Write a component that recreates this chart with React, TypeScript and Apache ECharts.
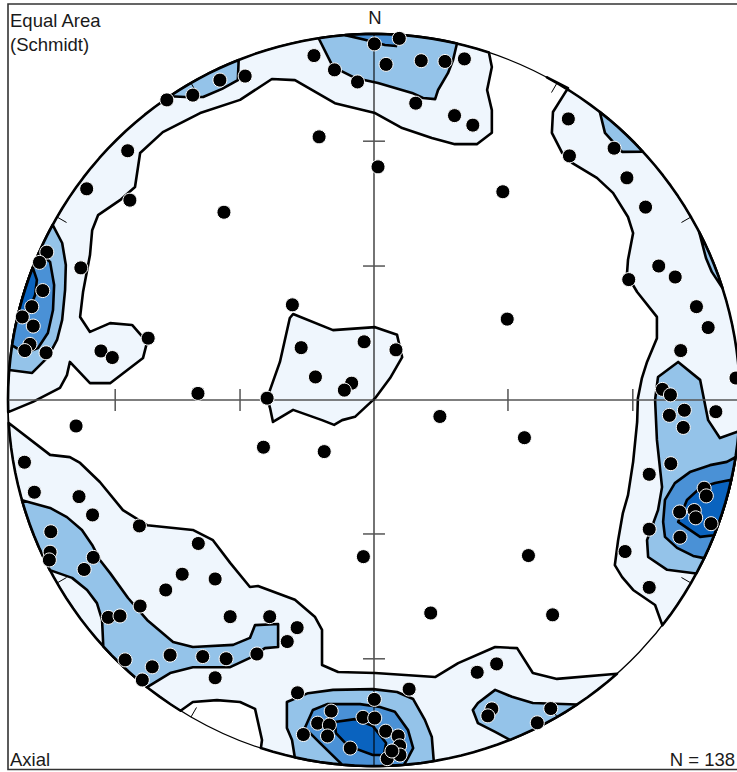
import { useEffect, useRef } from "react";
import * as echarts from "echarts";

// Outline vertex: [x, y] in projection units (primitive circle radius = 1),
// or a single number = azimuth (deg, clockwise from N) of a point on the primitive circle.
type V = [number, number] | number;

// ---------- poles (equal-area projection coordinates) ----------
const northWestPoles: [number, number][] = [
  [-0.566, 0.82], [-0.495, 0.833], [-0.421, 0.874], [-0.352, 0.885], [-0.673, 0.681],
  [-0.785, 0.577], [-0.667, 0.546], [-0.41, 0.513], [-0.894, 0.404],
];
const northPoles: [number, number][] = [
  [-0.164, 0.941], [-0.108, 0.902], [-0.045, 0.869], [0.001, 0.973], [0.069, 0.988],
  [0.033, 0.917], [0.129, 0.927], [0.194, 0.925], [0.247, 0.932], [0.114, 0.811],
  [0.22, 0.777], [0.27, 0.751], [-0.15, 0.719], [0.011, 0.637],
];
const northEastPoles: [number, number][] = [
  [0.531, 0.768], [0.656, 0.688], [0.534, 0.667], [0.691, 0.607], [0.742, 0.527],
  [0.352, 0.569], [0.778, 0.366], [0.823, 0.336], [0.696, 0.329], [0.881, 0.255],
  [0.913, 0.198], [0.364, 0.221],
];
const eastPoles: [number, number][] = [
  [0.838, 0.135], [0.788, 0.029], [0.81, 0.014], [0.848, -0.028], [0.807, -0.042],
  [0.845, -0.075], [0.934, -0.032], [0.411, -0.103], [0.811, -0.174], [0.752, -0.203],
  [0.902, -0.241], [0.908, -0.262], [0.835, -0.306], [0.875, -0.302], [0.879, -0.322],
  [0.921, -0.338], [0.836, -0.375], [0.752, -0.353], [0.686, -0.414], [0.989, 0.06],
];
const southEastPoles: [number, number][] = [
  [0.752, -0.512], [0.422, -0.425], [0.488, -0.587], [0.335, -0.721], [0.483, -0.843],
  [0.446, -0.882], [0.322, -0.844], [0.311, -0.863],
];
const southPoles: [number, number][] = [
  [-0.029, -0.428], [0.155, -0.582], [-0.285, -0.592], [-0.21, -0.622], [-0.237, -0.66],
  [-0.32, -0.694], [0.282, -0.744], [0.096, -0.79], [-0.209, -0.8], [0.001, -0.818],
  [-0.117, -0.85], [-0.154, -0.883], [-0.122, -0.888], [-0.127, -0.918], [-0.193, -0.914],
  [-0.03, -0.867], [0.002, -0.869], [0.032, -0.905], [-0.065, -0.951], [0.066, -0.918],
  [0.07, -0.945], [0.036, -0.98], [0.071, -0.97], [0.049, -0.959],
];
const southWestPoles: [number, number][] = [
  [-0.769, -0.314], [-0.641, -0.344], [-0.48, -0.392], [-0.883, -0.36], [-0.885, -0.416],
  [-0.887, -0.437], [-0.767, -0.43], [-0.792, -0.463], [-0.524, -0.476], [-0.434, -0.489],
  [-0.569, -0.519], [-0.639, -0.563], [-0.726, -0.594], [-0.694, -0.59], [-0.393, -0.592],
  [-0.557, -0.697], [-0.468, -0.701], [-0.404, -0.707], [-0.68, -0.71], [-0.606, -0.729],
  [-0.633, -0.765], [-0.434, -0.759], [-0.814, -0.071], [-0.955, -0.17], [-0.928, -0.252],
  [-0.806, -0.264],
];
const westPoles: [number, number][] = [
  [-0.914, 0.376], [-0.801, 0.361], [-0.905, 0.299], [-0.935, 0.255], [-0.961, 0.227],
  [-0.931, 0.202], [-0.94, 0.152], [-0.954, 0.135], [-0.896, 0.129], [-0.617, 0.169],
  [-0.746, 0.134], [-0.715, 0.116], [-0.481, 0.018],
];
const centralPoles: [number, number][] = [
  [-0.223, 0.26], [-0.199, 0.143], [-0.027, 0.159], [0.06, 0.137], [-0.16, 0.063],
  [-0.061, 0.046], [-0.081, 0.027], [-0.292, 0.005], [0.18, -0.045], [-0.302, -0.129],
  [-0.136, -0.141],
];

// ---------- contour outlines ----------
const level1North: V[] = [268.1, [-0.932, -0.005], [-0.858, 0.033], [-0.839, 0.068], [-0.831, 0.104], [-0.776, 0.046], [-0.721, 0.046], [-0.631, 0.115], [-0.62, 0.158], [-0.661, 0.205], [-0.721, 0.21], [-0.776, 0.186], [-0.803, 0.227], [-0.795, 0.295], [-0.776, 0.396], [-0.77, 0.464], [-0.754, 0.505], [-0.694, 0.546], [-0.653, 0.582], [-0.639, 0.675], [-0.577, 0.732], [-0.475, 0.784], [-0.366, 0.82], [-0.279, 0.877], [-0.216, 0.874], [-0.107, 0.811], [0.003, 0.784], [0.077, 0.743], [0.158, 0.716], [0.221, 0.699], [0.281, 0.699], [0.322, 0.73], [0.322, 0.792], [0.309, 0.847], [0.322, 0.91], 18.3];
const level1East: V[] = [28.2, [0.53, 0.852], [0.489, 0.787], [0.486, 0.73], [0.514, 0.675], [0.541, 0.648], [0.609, 0.607], [0.653, 0.566], [0.694, 0.5], [0.708, 0.456], [0.694, 0.383], [0.691, 0.342], [0.719, 0.295], [0.773, 0.227], [0.773, 0.169], [0.746, 0.104], [0.732, 0.06], [0.721, 0.005], [0.719, -0.06], [0.708, -0.169], [0.694, -0.26], [0.68, -0.309], [0.667, -0.383], [0.658, -0.451], [0.678, -0.484], [0.708, -0.519], [0.768, -0.56], 128];
const level1South: V[] = [266.4, [-0.885, -0.15], [-0.831, -0.156], [-0.803, -0.172], [-0.749, -0.224], [-0.686, -0.301], [-0.62, -0.342], [-0.495, -0.355], [-0.44, -0.383], [-0.393, -0.445], [-0.339, -0.511], [-0.317, -0.508], [-0.216, -0.546], [-0.161, -0.593], [-0.142, -0.628], [-0.142, -0.724], [-0.098, -0.743], [0.003, -0.746], [0.167, -0.757], [0.23, -0.719], [0.331, -0.675], [0.391, -0.678], [0.434, -0.746], [0.5, -0.762], 138.4, 198, [-0.306, -0.929], [-0.325, -0.844], [-0.366, -0.825], [-0.429, -0.82], [-0.495, -0.825], 211.9];
const level1Center: V[] = [[-0.221, 0.235], [-0.112, 0.191], [0.003, 0.199], [0.063, 0.178], [0.077, 0.117], [0.044, 0.06], [0.003, 0.005], [-0.052, -0.046], [-0.087, -0.055], [-0.109, -0.068], [-0.142, -0.055], [-0.221, -0.027], [-0.276, -0.06], [-0.284, -0.022], [-0.292, 0.005], [-0.257, 0.104], [-0.23, 0.224]];

const level2North: V[] = [351.3, [-0.112, 0.91], [-0.052, 0.88], [0.011, 0.866], [0.104, 0.839], [0.134, 0.825], [0.167, 0.822], [0.175, 0.847], [0.202, 0.893], [0.216, 0.929], 13.1];
const level2NorthWest: V[] = [326.1, [-0.516, 0.828], [-0.467, 0.828], [-0.415, 0.85], [-0.372, 0.874], 338.3];
const level2NorthEast: V[] = [38.1, [0.631, 0.73], [0.678, 0.678], 47.3];
const level2EastSliver: V[] = [62.7, [0.907, 0.388], [0.923, 0.35], 72.2];
const level2East: V[] = [94.9, [0.945, -0.104], [0.913, -0.055], [0.891, 0.055], [0.831, 0.104], [0.776, 0.063], [0.768, 0], [0.773, -0.109], [0.787, -0.238], [0.776, -0.301], [0.746, -0.383], [0.749, -0.429], [0.801, -0.464], 118.3];
const level2West: V[] = [298.6, [-0.852, 0.429], [-0.842, 0.369], [-0.844, 0.301], [-0.852, 0.219], [-0.866, 0.164], [-0.891, 0.117], [-0.934, 0.074], 274.7];
const level2SouthWest: V[] = [254.1, [-0.885, -0.295], [-0.839, -0.32], [-0.798, -0.355], [-0.77, -0.396], [-0.749, -0.437], [-0.721, -0.473], [-0.672, -0.541], [-0.62, -0.601], [-0.549, -0.661], [-0.495, -0.675], [-0.385, -0.669], [-0.339, -0.65], [-0.325, -0.615], [-0.262, -0.612], [-0.262, -0.675], [-0.298, -0.678], [-0.333, -0.702], [-0.393, -0.73], [-0.495, -0.73], [-0.557, -0.746], 218.3, 227.7, [-0.743, -0.601], [-0.757, -0.555], [-0.784, -0.519], [-0.825, -0.486], 242.3];
const level2South: V[] = [192.5, [-0.224, -0.929], [-0.238, -0.896], [-0.238, -0.825], [-0.18, -0.801], [-0.112, -0.792], [-0.003, -0.79], [0.063, -0.798], [0.107, -0.817], [0.139, -0.874], [0.158, -0.921], 170.6];
const level2SouthEast: V[] = [146.3, [0.434, -0.828], [0.377, -0.811], [0.331, -0.792], [0.284, -0.828], [0.27, -0.847], [0.284, -0.883], [0.331, -0.907], 158.2];

const level3North: V[] = [355.5, [-0.025, 0.984], [0.03, 0.97], [0.06, 0.967], 3.6];
const level3West: V[] = [293.8, [-0.885, 0.377], [-0.874, 0.314], [-0.877, 0.246], [-0.891, 0.183], [-0.918, 0.142], [-0.954, 0.128], 278.6];
const level3East: V[] = [99, [0.964, -0.169], [0.918, -0.178], [0.863, -0.197], [0.822, -0.227], [0.795, -0.273], [0.79, -0.333], [0.795, -0.374], [0.828, -0.404], [0.872, -0.426], 115.6];
const level3South: V[] = [185, [-0.148, -0.937], [-0.189, -0.896], [-0.167, -0.847], [-0.128, -0.831], [-0.038, -0.831], [0.016, -0.839], [0.057, -0.852], [0.093, -0.902], [0.107, -0.951], [0.093, -0.978], 175.3];

const level4West: V[] = [291.2, [-0.921, 0.328], [-0.926, 0.287], [-0.94, 0.251], [-0.956, 0.224], 282.3];
const level4East: V[] = [102.6, [0.932, -0.227], [0.891, -0.24], [0.855, -0.273], [0.831, -0.333], [0.863, -0.355], [0.891, -0.374], 111.7];
const level4South: V[] = [[-0.107, -0.88], [-0.052, -0.872], [-0.003, -0.891], [0.033, -0.937], [0.027, -0.97], [-0.003, -0.97], [-0.071, -0.945], [-0.104, -0.91]];

const levelColors = ["#eff6fd", "#94c3e9", "#4a91d6", "#0a63bf"];
const contours: { level: number; outline: V[] }[] = [
  ...[level1North, level1East, level1South, level1Center].map((o) => ({ level: 1, outline: o })),
  ...[level2North, level2NorthWest, level2NorthEast, level2EastSliver, level2East, level2West, level2SouthWest, level2South, level2SouthEast].map((o) => ({ level: 2, outline: o })),
  ...[level3North, level3West, level3East, level3South].map((o) => ({ level: 3, outline: o })),
  ...[level4West, level4East, level4South].map((o) => ({ level: 4, outline: o })),
];

// net furniture
const crossTickPlunges = [30, 60];
const rimTickAzimuths = [30, 60, 120, 150, 210, 240, 300, 330];

const azToXY = (az: number): [number, number] => [Math.sin((az * Math.PI) / 180), Math.cos((az * Math.PI) / 180)];
const equalAreaR = (plunge: number) => Math.SQRT2 * Math.sin((((90 - plunge) / 2) * Math.PI) / 180);

function expandOutline(outline: V[]): [number, number][] {
  const out: [number, number][] = [];
  const n = outline.length;
  for (let i = 0; i < n; i++) {
    const a = outline[i];
    const b = outline[(i + 1) % n];
    if (typeof a === "number") {
      out.push(azToXY(a));
      if (typeof b === "number") {
        const d = ((b - a + 540) % 360) - 180;
        const steps = Math.max(1, Math.ceil(Math.abs(d) / 2));
        for (let k = 1; k < steps; k++) out.push(azToXY(a + (d * k) / steps));
      }
    } else out.push(a);
  }
  return out;
}

const allPoles = [
  ...northWestPoles, ...northPoles, ...northEastPoles, ...eastPoles, ...southEastPoles,
  ...southPoles, ...southWestPoles, ...westPoles, ...centralPoles,
];

export default function App() {
  const ref = useRef<HTMLDivElement>(null);
  useEffect(() => {
    if (!ref.current) return;
    const chart = echarts.init(ref.current, undefined, { renderer: "svg" });
    const font = '18.5px "Liberation Sans", Arial, sans-serif';
    const textFill = "#1a1a1a";
    chart.setOption({
      animation: false,
      backgroundColor: "#ffffff",
      grid: { left: 8, top: 34, width: 732, height: 732, containLabel: false, outerBoundsMode: "none" },
      xAxis: { type: "value", min: -1, max: 1, show: false },
      yAxis: { type: "value", min: -1, max: 1, show: false },
      graphic: [
        { type: "rect", shape: { x: 8, y: 4, width: 745, height: 765.5 }, style: { fill: "none", stroke: "#333", lineWidth: 1.6 }, z: 0, silent: true },
        { type: "text", x: 10, y: 10.5, style: { text: "Equal Area", font, fill: textFill, verticalAlign: "top" }, z: 10 },
        { type: "text", x: 10, y: 34.5, style: { text: "(Schmidt)", font, fill: textFill, verticalAlign: "top" }, z: 10 },
        { type: "text", x: 375, y: 7.5, style: { text: "N", font, fill: textFill, align: "center", verticalAlign: "top" }, z: 10 },
        { type: "text", x: 10, y: 749.5, style: { text: "Axial", font, fill: textFill, verticalAlign: "top" }, z: 10 },
        { type: "text", x: 735, y: 749.5, style: { text: "N = 138", font, fill: textFill, align: "right", verticalAlign: "top" }, z: 10 },
      ],
      series: [
        {
          type: "custom",
          coordinateSystem: "cartesian2d",
          silent: true,
          z: 1,
          encode: { x: 0, y: 1 },
          data: contours.map((_, i) => [0, 0, i]),
          renderItem: (_p: any, api: any) => {
            const c = contours[api.value(2) as number];
            const points = expandOutline(c.outline).map((p) => api.coord(p));
            return {
              type: "polygon",
              shape: { points },
              style: { fill: levelColors[c.level - 1], stroke: "#000", lineWidth: 2.6, lineJoin: "round" },
            };
          },
        },
        {
          type: "custom",
          coordinateSystem: "cartesian2d",
          silent: true,
          z: 2,
          encode: { x: 0, y: 1 },
          data: [[0, 0]],
          renderItem: (_p: any, api: any) => {
            const c = api.coord([0, 0]);
            const sz = api.size([1, 1]);
            const r = Array.isArray(sz) ? sz[0] : sz;
            const children: any[] = [];
            const line = (a: [number, number], b: [number, number], stroke: string, lw: number) => {
              const p1 = api.coord(a);
              const p2 = api.coord(b);
              children.push({ type: "line", shape: { x1: p1[0], y1: p1[1], x2: p2[0], y2: p2[1] }, style: { stroke, lineWidth: lw } });
            };
            line([-1, 0], [1, 0], "#555", 1.6);
            line([0, -1], [0, 1], "#000", 1.1);
            const tl = 0.03;
            crossTickPlunges.forEach((pl) => {
              const t = equalAreaR(pl);
              line([t, -tl], [t, tl], "#555", 1.5);
              line([-t, -tl], [-t, tl], "#555", 1.5);
              line([-tl, t], [tl, t], "#555", 1.5);
              line([-tl, -t], [tl, -t], "#555", 1.5);
            });
            rimTickAzimuths.forEach((az) => {
              const [x, y] = azToXY(az);
              line([x, y], [x * 0.97, y * 0.97], "#000", 1);
            });
            children.push({ type: "circle", shape: { cx: c[0], cy: c[1], r }, style: { fill: "none", stroke: "#000", lineWidth: 1.3 } });
            return { type: "group", children };
          },
        },
        {
          type: "scatter",
          silent: true,
          z: 3,
          symbol: "circle",
          symbolSize: 14,
          itemStyle: { color: "#000", borderColor: "#fff", borderWidth: 1, opacity: 1 },
          data: allPoles,
        },
      ],
    });
    return () => chart.dispose();
  }, []);
  return <div ref={ref} style={{ position: "absolute", left: 0, top: 0, width: 737, height: 772 }} />;
}
